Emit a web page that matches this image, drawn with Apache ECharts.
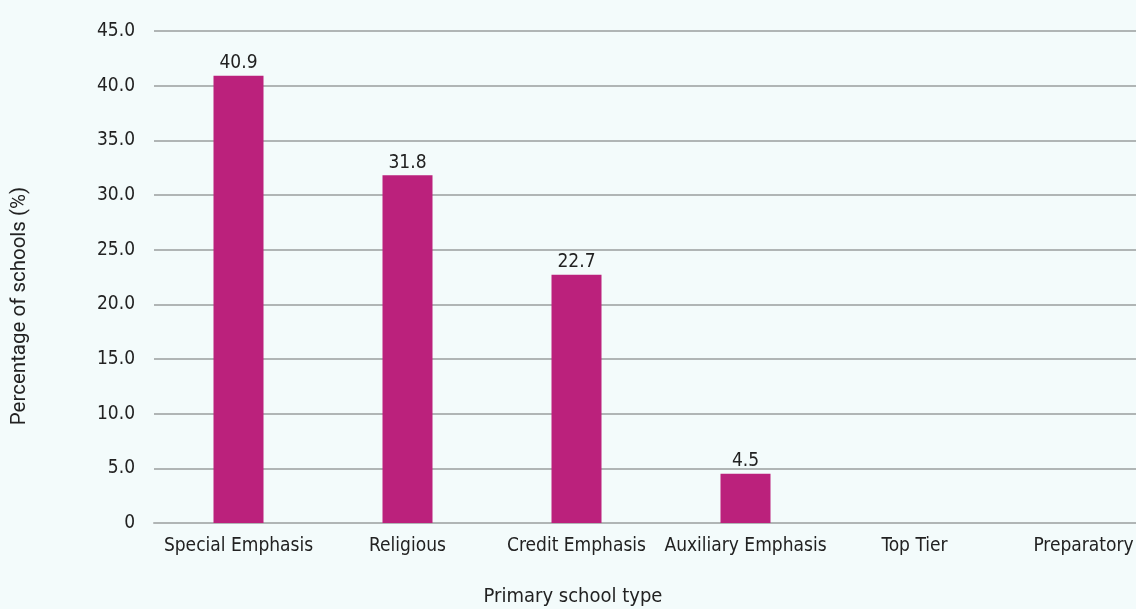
<!DOCTYPE html>
<html>
<head>
<meta charset="utf-8">
<script src="https://cdn.jsdelivr.net/npm/echarts@6/dist/echarts.min.js"></script>
<style>
  html, body { margin: 0; padding: 0; background: #f3fbfb; overflow: hidden; }
  /* chart canvas is a bit wider than the window so the last band runs off the right edge */
  #chart { width: 1168px; height: 609px; }
</style>
</head>
<body>
<div id="chart"></div>
<script>
// Share of schools by primary school type
const categories = ['Special Emphasis', 'Religious', 'Credit Emphasis', 'Auxiliary Emphasis', 'Top Tier', 'Preparatory'];
const percentages = [40.9, 31.8, 22.7, 4.5, null, null];
const yTicks = { min: 0, max: 45, interval: 5 };
const xTitle = 'Primary school type';
const yTitle = 'Percentage of schools (%)';

const FONT = '"Liberation Sans Narrow", "DejaVu Sans Condensed", "Roboto", sans-serif';
const chart = echarts.init(document.getElementById('chart'));
chart.setOption({
  backgroundColor: '#f3fbfb',
  textStyle: { fontFamily: FONT, color: '#222' },
  grid: { left: 154, right: 0, top: 31, bottom: 86, containLabel: false },
  graphic: [
    {
      type: 'text',
      x: 573, y: 597,
      style: { text: xTitle, font: '20px ' + FONT, fill: '#222', align: 'center', verticalAlign: 'middle' }
    },
    {
      type: 'text',
      x: 20, y: 306,
      rotation: Math.PI / 2,
      style: { text: yTitle, font: '20.5px Roboto, sans-serif', fill: '#222', align: 'center', verticalAlign: 'middle' }
    }
  ],
  xAxis: {
    type: 'category',
    data: categories,
    axisLine: { lineStyle: { color: '#b0b5b5', width: 2 } },
    axisTick: { show: false },
    axisLabel: { fontFamily: FONT, fontSize: 19, color: '#222', margin: 14, interval: 0 }
  },
  yAxis: {
    type: 'value',
    min: yTicks.min,
    max: yTicks.max,
    interval: yTicks.interval,
    axisLine: { show: false },
    axisTick: { show: false },
    splitLine: { lineStyle: { color: '#b0b5b5', width: 2 } },
    axisLabel: {
      fontFamily: FONT, fontSize: 19, color: '#222', margin: 19,
      formatter: v => (v === 0 ? '0' : v.toFixed(1))
    }
  },
  series: [{
    type: 'bar',
    data: percentages,
    barWidth: 50,
    itemStyle: { color: '#bb217c' },
    label: {
      show: true,
      position: 'top',
      distance: 3,
      fontFamily: FONT,
      fontSize: 19,
      color: '#222',
      formatter: p => p.value.toFixed(1)
    }
  }]
});
</script>
</body>
</html>
